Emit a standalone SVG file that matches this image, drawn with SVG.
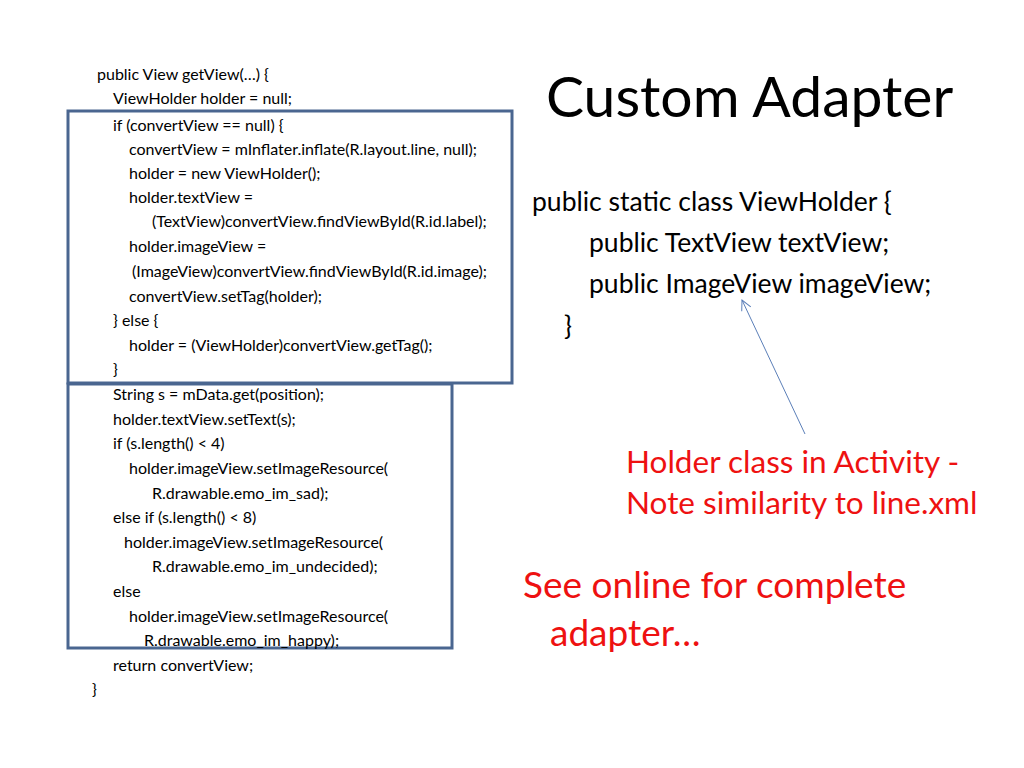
<svg xmlns="http://www.w3.org/2000/svg" width="1024" height="768" viewBox="0 0 1024 768">
<style>
.code{font-family:Lato,"Noto Sans",sans-serif;font-size:16px;fill:#000}
.big{font-family:Lato,"Noto Sans",sans-serif;font-size:26.5px;fill:#000}
.title{font-family:Lato,"Noto Sans",sans-serif;font-size:57px;fill:#000}
.red{font-family:Lato,"Noto Sans",sans-serif;fill:#ee1111}
.box{fill:none;stroke:#4a6690;stroke-width:3}
</style>
<defs>
<marker id="open" viewBox="0 0 12 12" refX="11" refY="6" markerWidth="12" markerHeight="12" markerUnits="userSpaceOnUse" orient="auto">
<path d="M1,1 L11,6 L1,11" fill="none" stroke="#5b7fb8" stroke-width="1"/>
</marker>
</defs>
<rect width="1024" height="768" fill="#fff"/>
<g id="box-if">
<rect class="box" x="68" y="111" width="444" height="272"/>
</g>
<g id="box-set">
<rect class="box" x="68" y="384" width="384" height="264"/>
</g>
<g id="code">
<text class="code" x="97" y="80">public View getView(…) {</text>
<text class="code" x="113" y="104">ViewHolder holder = null;</text>
<text class="code" x="113" y="131">if (convertView == null) {</text>
<text class="code" x="129" y="155">convertView = mInflater.inflate(R.layout.line, null);</text>
<text class="code" x="129" y="179">holder = new ViewHolder();</text>
<text class="code" x="129" y="203">holder.textView =</text>
<text class="code" x="152" y="227">(TextView)convertView.findViewById(R.id.label);</text>
<text class="code" x="129" y="252">holder.imageView =</text>
<text class="code" x="132" y="277">(ImageView)convertView.findViewById(R.id.image);</text>
<text class="code" x="129" y="302">convertView.setTag(holder);</text>
<text class="code" x="113" y="326">} else {</text>
<text class="code" x="129" y="351">holder = (ViewHolder)convertView.getTag();</text>
<text class="code" x="113" y="375">}</text>
<text class="code" x="113" y="400">String s = mData.get(position);</text>
<text class="code" x="113" y="425">holder.textView.setText(s);</text>
<text class="code" x="113" y="449">if (s.length() &lt; 4)</text>
<text class="code" x="129" y="474">holder.imageView.setImageResource(</text>
<text class="code" x="152" y="499">R.drawable.emo_im_sad);</text>
<text class="code" x="113" y="523">else if (s.length() &lt; 8)</text>
<text class="code" x="124" y="548">holder.imageView.setImageResource(</text>
<text class="code" x="152" y="572">R.drawable.emo_im_undecided);</text>
<text class="code" x="113" y="597">else</text>
<text class="code" x="129" y="622">holder.imageView.setImageResource(</text>
<text class="code" x="144" y="646">R.drawable.emo_im_happy);</text>
<text class="code" x="113" y="671">return convertView;</text>
<text class="code" x="92" y="695">}</text>
</g>
<g id="title">
<text class="title" x="546" y="117">Custom Adapter</text>
</g>
<g id="viewholder">
<text class="big" x="532" y="211">public static class ViewHolder {</text>
<text class="big" x="589" y="252">public TextView textView;</text>
<text class="big" x="589" y="293">public ImageView imageView;</text>
<text class="big" x="564" y="335">}</text>
</g>
<g id="note">
<text class="red" font-size="31.5" x="626" y="473">Holder class in Activity -</text>
<text class="red" font-size="31.5" x="626" y="514">Note similarity to line.xml</text>
</g>
<g id="online">
<text class="red" font-size="37" x="523" y="598">See online for complete</text>
<text class="red" font-size="37" x="550" y="646">adapter…</text>
</g>
<g id="connectors">
<line x1="805" y1="434" x2="742" y2="300" stroke="#5b7fb8" stroke-width="1" marker-end="url(#open)"/>
</g>
</svg>
